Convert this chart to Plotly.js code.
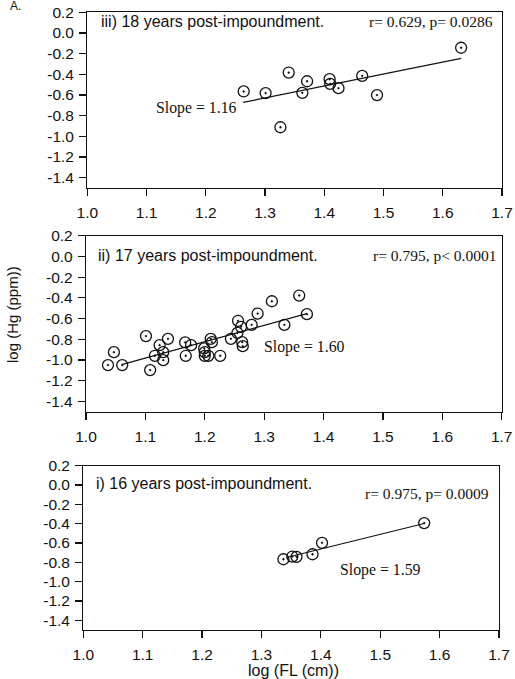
<!DOCTYPE html>
<html>
<head>
<meta charset="utf-8">
<script src="https://cdn.plot.ly/plotly-3.0.1.min.js"></script>
<style>html,body{margin:0;padding:0;background:#fff;}#chart{width:515px;height:679px;}</style>
</head>
<body>
<div id="chart"></div>
<script>
// ---- data ----
// iii) 18 years post-impoundment
var fl18 = [1.264, 1.301, 1.340, 1.326, 1.363, 1.371, 1.409, 1.410, 1.424, 1.464, 1.489, 1.631];
var hg18 = [-0.566, -0.582, -0.383, -0.912, -0.579, -0.467, -0.447, -0.492, -0.534, -0.415, -0.601, -0.143];
var fit18x = [1.263, 1.631];
var fit18y = [-0.672, -0.245];

// ii) 17 years post-impoundment
var fl17 = [1.037, 1.047, 1.061, 1.101, 1.108, 1.116, 1.124, 1.130, 1.130, 1.138, 1.167, 1.168, 1.177,
            1.199, 1.200, 1.200, 1.206, 1.210, 1.212, 1.226, 1.244, 1.256, 1.255, 1.261, 1.263, 1.264,
            1.279, 1.289, 1.313, 1.334, 1.359, 1.372];
var hg17 = [-1.050, -0.925, -1.050, -0.770, -1.098, -0.960, -0.857, -0.925, -1.002, -0.796, -0.831, -0.960, -0.857,
            -0.889, -0.925, -0.960, -0.960, -0.796, -0.828, -0.960, -0.796, -0.622, -0.738, -0.680, -0.828, -0.867,
            -0.661, -0.552, -0.433, -0.661, -0.378, -0.558];
var fit17x = [1.060, 1.372];
var fit17y = [-1.045, -0.553];

// i) 16 years post-impoundment
var fl16 = [1.337, 1.352, 1.359, 1.386, 1.402, 1.574];
var hg16 = [-0.768, -0.740, -0.743, -0.716, -0.598, -0.394];
var fit16x = [1.342, 1.574];
var fit16y = [-0.750, -0.398];

var panelTitles = ['iii) 18 years post-impoundment.', 'ii) 17 years post-impoundment.', 'i) 16 years post-impoundment.'];
var statsText = ['r= 0.629, p= 0.0286', 'r= 0.795, p< 0.0001', 'r= 0.975, p= 0.0009'];
var slopeText = ['Slope = 1.16', 'Slope = 1.60', 'Slope = 1.59'];

var xTickVals = [1.0, 1.1, 1.2, 1.3, 1.4, 1.5, 1.6, 1.7];
var xTickText = ['1.0', '1.1', '1.2', '1.3', '1.4', '1.5', '1.6', '1.7'];
var yTickVals = [0.2, 0.0, -0.2, -0.4, -0.6, -0.8, -1.0, -1.2, -1.4];
var yTickText = ['0.2', '0.0', '-0.2', '-0.4', '-0.6', '-0.8', '-1.0', '-1.2', '-1.4'];

// ---- layout helpers ----
var W = 515, H = 679;
function fx(p) { return p / W; }
function fy(p) { return 1 - p / H; }

var ink = '#111111';
var sansF = 'Arial, "Liberation Sans", sans-serif';
var serifF = '"Times New Roman", "Liberation Serif", serif';

function scatter(x, y, xa, ya) {
  return {x: x, y: y, xaxis: xa, yaxis: ya, type: 'scatter', mode: 'markers',
    marker: {symbol: 'circle-open-dot', size: 11, color: ink, line: {width: 1.3, color: ink}},
    hoverinfo: 'none', showlegend: false};
}
function fitLine(x, y, xa, ya) {
  return {x: x, y: y, xaxis: xa, yaxis: ya, type: 'scatter', mode: 'lines',
    line: {color: ink, width: 1.2}, hoverinfo: 'none', showlegend: false};
}

var traces = [
  scatter(fl18, hg18, 'x', 'y'), fitLine(fit18x, fit18y, 'x', 'y'),
  scatter(fl17, hg17, 'x2', 'y2'), fitLine(fit17x, fit17y, 'x2', 'y2'),
  scatter(fl16, hg16, 'x3', 'y3'), fitLine(fit16x, fit16y, 'x3', 'y3')
];

function xAxis(dom, anchor) {
  return {domain: dom, anchor: anchor, range: [1.0, 1.7], tickmode: 'array', tickvals: xTickVals, ticktext: xTickText,
    ticks: 'outside', ticklen: 7, tickwidth: 1.2, tickcolor: ink, showline: true, linecolor: ink, linewidth: 1.2,
    mirror: true, showgrid: false, zeroline: false, tickfont: {family: sansF, size: 15.5, color: ink}, ticklabelstandoff: 3};
}
function yAxis(dom, anchor) {
  return {domain: dom, anchor: anchor, range: [-1.5, 0.2], tickmode: 'array', tickvals: yTickVals, ticktext: yTickText,
    ticks: 'outside', ticklen: 7, tickwidth: 1.2, tickcolor: ink, showline: true, linecolor: ink, linewidth: 1.2,
    mirror: true, showgrid: false, zeroline: false, tickfont: {family: sansF, size: 15.5, color: ink}, ticklabelstandoff: 2};
}

var panels = [
  {x: [87.3, 502], y: [12.3, 188], titleY: 21, statsX: 495, statsY: 21, slopeX: 154, slopeY: 108},
  {x: [86, 501.7], y: [235.7, 411.7], titleY: 255, statsX: 498, statsY: 255, slopeX: 262, slopeY: 347},
  {x: [83.3, 499], y: [465.7, 630], titleY: 483, statsX: 491, statsY: 493, slopeX: 338, slopeY: 570}
];
var titleX = [99, 96, 94];

var layout = {
  width: W, height: H, margin: {l: 0, r: 0, t: 0, b: 0},
  paper_bgcolor: '#fff', plot_bgcolor: '#fff', showlegend: false,
  xaxis: xAxis([fx(panels[0].x[0]), fx(panels[0].x[1])], 'y'),
  yaxis: yAxis([fy(panels[0].y[1]), fy(panels[0].y[0])], 'x'),
  xaxis2: xAxis([fx(panels[1].x[0]), fx(panels[1].x[1])], 'y2'),
  yaxis2: yAxis([fy(panels[1].y[1]), fy(panels[1].y[0])], 'x2'),
  xaxis3: xAxis([fx(panels[2].x[0]), fx(panels[2].x[1])], 'y3'),
  yaxis3: yAxis([fy(panels[2].y[1]), fy(panels[2].y[0])], 'x3'),
  annotations: []
};

for (var i = 0; i < 3; i++) {
  var p = panels[i];
  layout.annotations.push({xref: 'paper', yref: 'paper', x: fx(titleX[i]), y: fy(p.titleY), xanchor: 'left', yanchor: 'middle',
    text: panelTitles[i], showarrow: false, font: {family: sansF, size: 16, color: ink}});
  layout.annotations.push({xref: 'paper', yref: 'paper', x: fx(p.statsX), y: fy(p.statsY), xanchor: 'right', yanchor: 'middle',
    text: statsText[i], showarrow: false, font: {family: serifF, size: 15.5, color: ink}});
  layout.annotations.push({xref: 'paper', yref: 'paper', x: fx(p.slopeX), y: fy(p.slopeY), xanchor: 'left', yanchor: 'middle',
    text: slopeText[i], showarrow: false, font: {family: serifF, size: 15.8, color: ink}});
}
layout.annotations.push({xref: 'paper', yref: 'paper', x: fx(12), y: fy(315), xanchor: 'center', yanchor: 'middle',
  text: 'log (Hg (ppm))', textangle: -90, showarrow: false, font: {family: sansF, size: 15, color: ink}});
layout.annotations.push({xref: 'paper', yref: 'paper', x: fx(293), y: fy(670), xanchor: 'center', yanchor: 'middle',
  text: 'log (FL (cm))', showarrow: false, font: {family: sansF, size: 16, color: ink}});
layout.annotations.push({xref: 'paper', yref: 'paper', x: fx(8), y: fy(6), xanchor: 'left', yanchor: 'middle',
  text: 'A.', showarrow: false, font: {family: sansF, size: 12, color: ink}});

Plotly.newPlot('chart', traces, layout, {staticPlot: true, displayModeBar: false});
</script>
</body>
</html>
